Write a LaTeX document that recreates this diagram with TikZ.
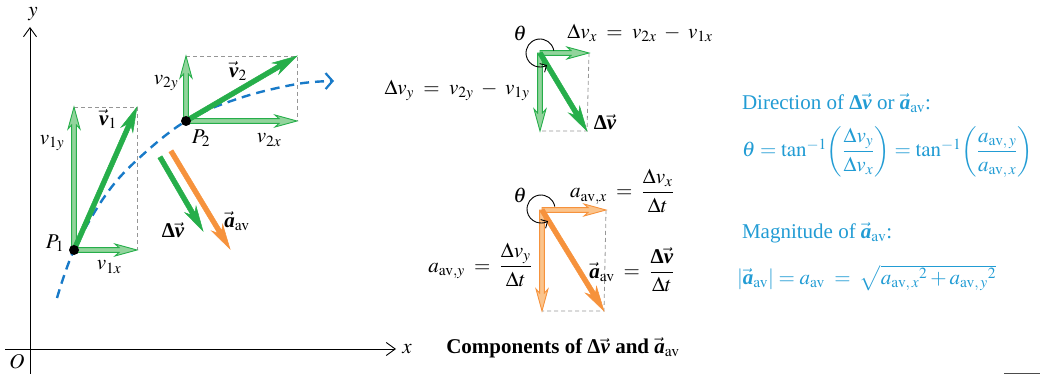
\documentclass[tikz,border=0pt]{standalone}
\usepackage{amsmath}
\usepackage{mathptmx}
\usepackage[no-math]{fontspec}
\setmainfont{Liberation Serif}
\usetikzlibrary{calc,arrows.meta}
\DeclareMathSizes{21}{21}{15.5}{12}
\definecolor{vgreen}{RGB}{38,174,74}
\definecolor{vgreenl}{RGB}{146,212,156}
\definecolor{aorange}{RGB}{246,146,60}
\definecolor{aorangel}{RGB}{251,196,140}
\definecolor{pathblue}{RGB}{24,122,200}
\definecolor{txtblue}{RGB}{34,156,212}
\definecolor{boxgray}{RGB}{150,150,150}
\newcommand\bvec[1]{\vec{\text{\bfseries\itshape #1}}}
\newcommand\bDelta{\text{\bfseries Δ}}
% fat arrow: #1 from, #2 to, #3 shaft half width, #4 head half width, #5 join dist, #6 wing dist, #7 style
\newcommand\fatarrow[7]{%
  \coordinate (faJ) at ($(#2)!#5!(#1)$);
  \coordinate (faW) at ($(#2)!#6!(#1)$);
  \path[#7] ($(#1)!#3!90:(#2)$) -- ($(faJ)!#3!-90:(#1)$) -- ($(faW)!#4!-90:(#1)$) -- (#2)
    -- ($(faW)!#4!90:(#1)$) -- ($(faJ)!#3!90:(#1)$) -- ($(#1)!#3!-90:(#2)$) -- cycle;
}
\begin{document}
\begin{tikzpicture}[x=1pt,y=-1pt,
  font=\fontsize{21}{25}\selectfont,
  every node/.style={inner sep=0pt, outer sep=0pt},
  axis/.style={line width=0.9pt, -{Straight Barb[length=9pt,width=13pt]}},
  dashbox/.style={draw=boxgray, line width=0.8pt, dash pattern=on 4pt off 3pt},
  trajectory/.style={draw=pathblue, line width=2.4pt, dash pattern=on 9pt off 6pt,
    -{Straight Barb[length=7pt,width=16pt,line width=2.2pt]}},
  gcomp/.style={fill=vgreenl, draw=vgreen, line width=0.9pt, line join=miter},
  gmain/.style={fill=vgreen, draw=vgreen, line width=0.5pt, line join=miter},
  ocomp/.style={fill=aorangel, draw=aorange, line width=0.9pt, line join=miter},
  omain/.style={fill=aorange, draw=aorange, line width=0.5pt, line join=miter},
  thetaarc/.style={draw=black, line width=0.9pt, -{Straight Barb[length=5pt,width=10pt]}},
  dot/.style={circle, fill=black, minimum size=10pt},
  bluetext/.style={text=txtblue, anchor=west}]
\useasboundingbox (0,0) rectangle (1040,374);

% axes
\coordinate (yb) at (30,374);
\coordinate (yt) at (30,27);
\coordinate (xl) at (5,349);
\coordinate (xr) at (396,349);
\draw[axis] (yb) -- (yt);
\draw[axis] (xl) -- (xr);
\node (ylab) at (33,14) {$y$};
\node (xlab) at (407,349) {$x$};
\node (Olab) at (17,362) {$O$};

% points
\coordinate (P1c) at (74,250);
\coordinate (P2c) at (186,121);
\coordinate (v1x) at (137,250);
\coordinate (v1y) at (74,107);
\coordinate (v1) at (137,107);
\coordinate (v2x) at (297,121);
\coordinate (v2y) at (186,56);
\coordinate (v2) at (297,56);

% dashed boxes
\draw[dashbox] (v1y) -- (v1) -- (v1x);
\draw[dashbox] (v2y) -- (v2) -- (v2x);

% trajectory
\draw[trajectory] plot[smooth, tension=0.6] coordinates {(57,298) (74,250) (105,196) (137,160) (186,121) (240,98) (297,84) (334,81)};

% components and vectors at P1, P2
\fatarrow{P1c}{v1x}{2.4pt}{6pt}{18pt}{22pt}{gcomp}
\fatarrow{P1c}{v1y}{2.4pt}{6pt}{18pt}{22pt}{gcomp}
\fatarrow{P1c}{v1}{2.4pt}{6.5pt}{20pt}{25pt}{gmain}
\fatarrow{P2c}{v2x}{2.4pt}{6pt}{18pt}{22pt}{gcomp}
\fatarrow{P2c}{v2y}{2.4pt}{6pt}{18pt}{22pt}{gcomp}
\fatarrow{P2c}{v2}{2.4pt}{6.5pt}{20pt}{25pt}{gmain}
\node[dot] (P1) at (P1c) {};
\node[dot] (P2) at (P2c) {};

% delta v and a_av
\coordinate (dvs) at (160,157);
\coordinate (dve) at (203,231);
\coordinate (aas) at (171,151);
\coordinate (aae) at (230,249);
\fatarrow{dvs}{dve}{2.4pt}{6.5pt}{20pt}{25pt}{gmain}
\fatarrow{aas}{aae}{2.4pt}{6.5pt}{20pt}{25pt}{omain}

% labels left
\node (lv1y) at (52,143) {$v_{1y}$};
\node (lv1) at (108,119) {$\bvec{v}_1$};
\node (lP1) at (55,243) {$P_1$};
\node (lv1x) at (109,267) {$v_{1x}$};
\node (lv2y) at (166,83) {$v_{2y}$};
\node (lv2) at (238,71) {$\bvec{v}_2$};
\node (lP2) at (201,138) {$P_2$};
\node (lv2x) at (269,140) {$v_{2x}$};
\node (ldv) at (173,230) {$\bDelta\bvec{v}$};
\node (la) at (237,221) {$\bvec{a}_{\mathrm{av}}$};

% middle top: components of delta v
\coordinate (O1) at (540,53);
\coordinate (dvx) at (589,53);
\coordinate (dvy) at (540,131);
\coordinate (dvd) at (587,131);
\coordinate (th1) at (540,53);
\draw[dashbox] (dvx) -- (dvd) -- (dvy);
\fatarrow{O1}{dvx}{2.4pt}{6pt}{18pt}{22pt}{gcomp}
\fatarrow{O1}{dvy}{2.4pt}{6pt}{18pt}{22pt}{gcomp}
\fatarrow{O1}{dvd}{2.4pt}{6.5pt}{20pt}{25pt}{gmain}
\draw[thetaarc] (th1) ++(-10:14) arc[start angle=-10, end angle=-300, radius=14];
\node (lth1) at (520,33) {$\theta$};
\node (ldvx) at (640,33) {$\Delta v_x \;=\; v_{2x} \;-\; v_{1x}$};
\node (ldvy) at (457,90) {$\Delta v_y \;=\; v_{2y} \;-\; v_{1y}$};
\node (ldvd) at (605,122) {$\bDelta\bvec{v}$};

% middle bottom: components of a_av
\coordinate (O2) at (542,210);
\coordinate (aax) at (606,210);
\coordinate (aay) at (542,311);
\coordinate (aad) at (604,311);
\coordinate (th2) at (541,209);
\draw[dashbox] (aax) -- (aad) -- (aay);
\fatarrow{O2}{aax}{2.4pt}{6pt}{18pt}{22pt}{ocomp}
\fatarrow{O2}{aay}{2.4pt}{6pt}{18pt}{22pt}{ocomp}
\fatarrow{O2}{aad}{2.4pt}{6.5pt}{20pt}{25pt}{omain}
\draw[thetaarc] (th2) ++(-10:14) arc[start angle=-10, end angle=-300, radius=14];
\node (lth2) at (520,195) {$\theta$};
\node (lax) at (622,191) {$a_{\mathrm{av},x} \;=\; \dfrac{\Delta v_x}{\Delta t}$};
\node (lay) at (480,265) {$a_{\mathrm{av},y} \;=\; \dfrac{\Delta v_y}{\Delta t}$};
\node (lad) at (602,272) {$\bvec{a}_{\mathrm{av}}$};
\node (lade) at (649,270) {$=\; \dfrac{\bDelta\bvec{v}}{\Delta t}$};
\node (cap) at (563,348) {\bfseries Components of $\bDelta\bvec{v}$ and $\bvec{a}_{\mathrm{av}}$};

% right: formulas
\node[bluetext] (dir) at (742,103) {Direction of $\bDelta\bvec{v}$ or $\bvec{a}_{\mathrm{av}}$:};
\node[bluetext] (theq) at (742,152) {$\theta = \tan^{-1}\!\left(\dfrac{\Delta v_y}{\Delta v_x}\right) = \tan^{-1}\!\left(\dfrac{a_{\mathrm{av},\,y}}{a_{\mathrm{av},\,x}}\right)$};
\node[bluetext] (mag) at (742,233) {Magnitude of $\bvec{a}_{\mathrm{av}}$:};
\node[bluetext] (mageq) at (737,278) {$\lvert\bvec{a}_{\mathrm{av}}\rvert = a_{\mathrm{av}} \;=\; \sqrt{{a_{\mathrm{av},\,x}}^{2} + {a_{\mathrm{av},\,y}}^{2}}$};

% corner mark
\coordinate (cm1) at (1004,373);
\coordinate (cm2) at (1040,373);
\draw[line width=1pt, black!70] (cm1) -- (cm2);
\end{tikzpicture}
\end{document}
